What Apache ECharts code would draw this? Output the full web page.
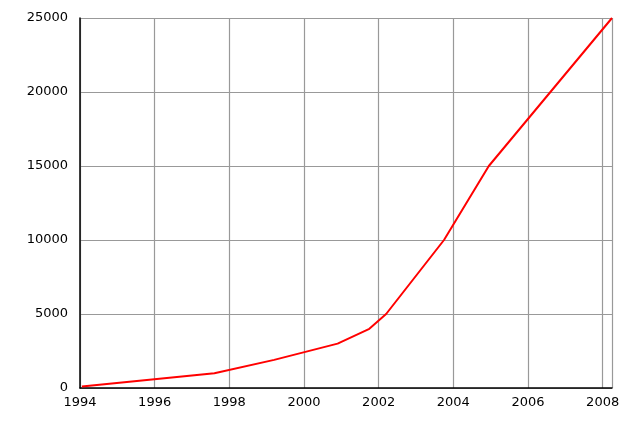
<!DOCTYPE html>
<html><head><meta charset="utf-8">
<script src="https://cdn.jsdelivr.net/npm/echarts@6/dist/echarts.min.js"></script>
<style>html,body{margin:0;padding:0;background:#fff}#c{width:640px;height:427px}</style>
</head><body><div id="c"></div>
<script>
const years = [1994.05, 1997.6, 1999.2, 2000.9, 2001.75, 2002.2, 2003.75, 2004.95, 2008.25];
const values = [100, 1000, 1900, 3000, 4000, 5000, 10000, 15000, 25000];
const xTicks = [1994, 1996, 1998, 2000, 2002, 2004, 2006, 2008];
const chart = echarts.init(document.getElementById('c'));
chart.setOption({
  animation:false,
  grid:{left:80,right:28,top:18,bottom:39},
  xAxis:{type:'value',min:1994,max:2008.25,interval:2,
    axisLine:{lineStyle:{color:'#000',width:1.5}},axisTick:{show:false},
    axisLabel:{color:'#000',fontFamily:'DejaVu Sans',fontSize:13,margin:8,
      formatter:v=>xTicks.includes(v)?String(v):''},
    splitLine:{show:true,lineStyle:{color:'#999',width:1.2}}},
  yAxis:{type:'value',min:0,max:25000,interval:5000,
    axisLine:{show:true,lineStyle:{color:'#000',width:1.5}},axisTick:{show:false},
    axisLabel:{color:'#000',fontFamily:'DejaVu Sans',fontSize:13,margin:12,formatter:v=>String(v)},
    splitLine:{show:true,lineStyle:{color:'#999',width:1.2}}},
  series:[{type:'line',data:years.map((y,i)=>[y,values[i]]),showSymbol:false,
    lineStyle:{color:'#ff0000',width:2}}]
});
</script></body></html>
